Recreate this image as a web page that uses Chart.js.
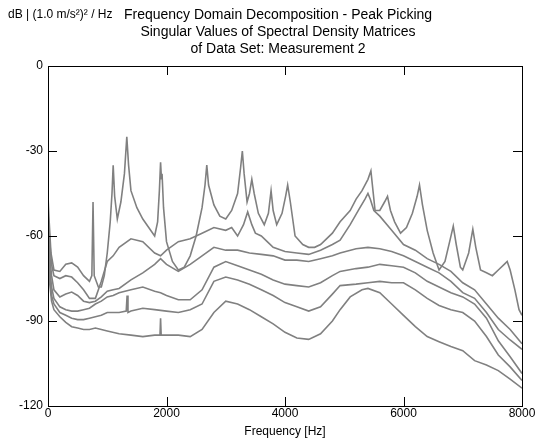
<!DOCTYPE html>
<html>
<head>
<meta charset="utf-8">
<script src="https://cdn.jsdelivr.net/npm/chart.js@4/dist/chart.umd.min.js"></script>
<style>
  html, body { margin: 0; padding: 0; background: #fff; }
  #wrap { width: 537px; height: 443px; }
</style>
</head>
<body>
<div id="wrap"><canvas id="fdd" width="537" height="443"></canvas></div>
<script>
// singular value curves (frequency in Hz, level in dB)
const pFreq = [0,20,50,100,200,300,400,500,600,700,740,760,780,850,900,950,1000,1050,1080,1100,1125,1170,1230,1290,1330,1360,1400,1500,1600,1700,1800,1850,1880,1900,1915,1925,1950,2000,2100,2200,2300,2400,2500,2600,2650,2680,2710,2800,2900,3000,3100,3200,3250,3280,3310,3360,3400,3440,3480,3550,3650,3720,3765,3800,3860,3950,4010,4045,4090,4170,4300,4400,4500,4600,4700,4800,4930,5100,5200,5300,5400,5450,5490,5520,5600,5680,5730,5780,5850,5950,6050,6150,6230,6270,6320,6400,6500,6600,6700,6790,6840,6890,6960,7000,7100,7170,7220,7300,7400,7500,7600,7700,7750,7800,7880,7950,8000];
const pDb = [-46,-55,-66,-72,-72.5,-70,-69.5,-71,-74,-76,-74,-48,-74,-78,-78,-74,-66,-55,-45,-35,-46,-54,-48,-38,-25,-35,-44,-50,-54,-57,-60,-55,-44,-34,-40,-38,-50,-62,-69,-72,-71,-67,-60,-50,-42,-35,-42,-49,-53,-54,-51,-45,-36,-30,-38,-48,-45,-40,-45,-52,-56,-52,-44,-51,-56,-52,-46,-42,-48,-60,-63,-64,-64,-63,-61,-59,-55,-51,-47,-44,-40,-37,-45,-51,-51,-48,-46,-51,-55,-59,-57,-52,-46,-42,-49,-58,-66,-72,-69,-61,-56.5,-63,-71,-72,-66,-57.6,-64,-72,-73,-74,-72,-70,-69,-72,-79,-86,-88];

const s2Freq = [0,30,60,100,200,300,400,500,600,700,800,900,1000,1100,1200,1400,1600,1800,1900,2000,2200,2400,2600,2800,3000,3100,3200,3300,3370,3440,3500,3600,3700,3800,4000,4200,4400,4600,4800,4930,5100,5250,5350,5400,5440,5500,5600,5800,6000,6200,6400,6600,6800,7000,7200,7400,7600,7800,8000];
const s2Db = [-52,-62,-70,-74,-75,-74,-74.5,-76.5,-79,-82,-82,-76,-69,-67,-64,-61,-62,-66,-67,-65,-62,-61,-59,-57,-58,-57,-60,-56,-51.5,-56,-59,-60,-62,-64,-65.5,-66,-66.5,-65,-63,-61.5,-56,-50.5,-47,-45,-47,-51,-53,-58,-63,-65,-68,-70,-72.5,-76.5,-79,-84,-89,-93,-98];

const midFreq = [0,30,60,100,200,300,400,500,600,700,800,900,1000,1100,1200,1400,1600,1800,1900,2000,2200,2400,2600,2800,3000,3200,3400,3600,3800,4000,4200,4400,4600,4800,4930,5200,5400,5600,5800,6000,6200,6400,6600,6800,7000,7200,7400,7600,7800,8000];
const s3Db = [-57,-67,-74,-79,-81.5,-80.5,-79.8,-81,-83,-83.5,-83,-81.5,-79.5,-79,-78.5,-75.5,-73,-70,-68,-70,-72.5,-70,-67,-64,-65,-65,-66,-66.5,-67,-68.5,-68.5,-69,-68,-67,-66,-64.5,-64,-64.5,-65.5,-67,-69,-71,-73,-76,-80,-82,-87,-93,-96.7,-100];
const s4Db = [-61,-71,-78,-82,-85,-86,-86.5,-86.5,-86,-85.5,-84,-83,-81.5,-81,-80,-79,-78,-79.5,-80,-81,-82.5,-82.5,-79,-71,-69,-70.5,-72,-73.5,-75.5,-77,-77.5,-78,-76.5,-74,-72.5,-71.5,-71,-70,-70.5,-71,-73,-76,-78,-80,-81.5,-84,-89,-97,-102.6,-108.5];

const s5Freq = [0,30,60,100,200,300,400,500,600,700,800,900,1000,1100,1200,1320,1335,1350,1400,1600,1800,2000,2200,2400,2600,2800,3000,3200,3400,3600,3800,4000,4200,4400,4600,4800,4930,5200,5400,5600,5800,6000,6200,6400,6600,6800,7000,7200,7400,7600,7800,8000];
const s5Db = [-65,-74,-81,-84,-87,-88,-89,-89.5,-89.5,-89,-88.5,-88,-87,-87,-87,-86.5,-81,-87,-86.5,-85.5,-86,-86.5,-87,-86,-84,-76,-74.5,-75.5,-77,-79,-81,-83.5,-85,-86.5,-85,-80.5,-77.5,-77,-76.5,-76,-76.5,-76.5,-79,-82,-84.5,-86,-87,-90,-95.5,-102,-106.2,-111];

const s6Freq = [0,30,60,100,200,300,400,500,600,700,800,900,1000,1200,1400,1600,1800,1890,1900,1910,2000,2200,2400,2600,2800,3000,3200,3400,3600,3800,4000,4200,4400,4600,4800,4930,5100,5300,5400,5600,5800,6000,6200,6400,6600,6800,7000,7200,7400,7600,7800,8000];
const s6Db = [-68,-77,-83,-86,-88.5,-90.5,-92,-92.5,-93,-93,-92.5,-93,-93.5,-94.5,-95,-95.5,-95,-95,-89,-95,-95,-95,-95.5,-93,-87,-83,-84,-86,-88.5,-91,-94,-96,-96.5,-94.5,-90,-86,-81.5,-79,-78.5,-80,-84,-88,-92,-95.5,-97.3,-99,-100.5,-104,-105.5,-107.5,-110.5,-113.7];

const xTicks = [0, 2000, 4000, 6000, 8000];
const yTicks = [0, -30, -60, -90, -120];

const FONT = '"Liberation Sans", Arial, Helvetica, sans-serif';
const lineColor = '#808080';

function pts(fs, vs) {
    return fs.map((f, i) => ({x: f, y: vs[i]}));
}

const curves = [
    [pFreq, pDb],
    [s2Freq, s2Db],
    [midFreq, s3Db],
    [midFreq, s4Db],
    [s5Freq, s5Db],
    [s6Freq, s6Db]
];

// frame on all four sides with ticks pointing inward, plus the header texts
const frameAndText = {
    id: 'frameAndText',
    afterDraw(chart) {
        const ctx = chart.ctx;
        const a = chart.chartArea;
        const xs = chart.scales.x, ys = chart.scales.y;
        const tl = 9;
        ctx.save();
        ctx.strokeStyle = '#000';
        ctx.lineWidth = 1;
        ctx.strokeRect(Math.round(a.left) + 0.5, Math.round(a.top) + 0.5,
                       Math.round(a.right - a.left), Math.round(a.bottom - a.top));
        ctx.beginPath();
        xTicks.forEach(v => {
            let px = Math.round(xs.getPixelForValue(v)) + 0.5;
            ctx.moveTo(px, a.bottom); ctx.lineTo(px, a.bottom - tl);
            ctx.moveTo(px, a.top); ctx.lineTo(px, a.top + tl);
        });
        yTicks.forEach(v => {
            let py = Math.round(ys.getPixelForValue(v)) + 0.5;
            ctx.moveTo(a.left, py); ctx.lineTo(a.left + tl, py);
            ctx.moveTo(a.right, py); ctx.lineTo(a.right - tl, py);
        });
        ctx.stroke();

        ctx.fillStyle = '#000';
        ctx.textBaseline = 'middle';
        ctx.textAlign = 'left';
        ctx.font = '12px ' + FONT;
        ctx.fillText('dB | (1.0 m/s²)² / Hz', 8, 15);
        ctx.textAlign = 'center';
        ctx.font = '14px ' + FONT;
        ctx.fillText('Frequency Domain Decomposition - Peak Picking', 278, 15);
        ctx.fillText('Singular Values of Spectral Density Matrices', 278, 32);
        ctx.fillText('of Data Set: Measurement 2', 278, 49);
        ctx.restore();
    }
};

new Chart(document.getElementById('fdd'), {
    type: 'line',
    data: {
        datasets: curves.map((c, i) => ({
            label: 'SV ' + (i + 1),
            data: pts(c[0], c[1]),
            borderColor: lineColor,
            borderWidth: 1.6,
            pointRadius: 0,
            fill: false,
            tension: 0
        }))
    },
    options: {
        responsive: false,
        animation: false,
        devicePixelRatio: 1,
        layout: {padding: {top: 66, right: 15, left: 0, bottom: 0}},
        plugins: {
            legend: {display: false},
            tooltip: {enabled: false},
            title: {display: false}
        },
        scales: {
            x: {
                type: 'linear',
                min: 0,
                max: 8000,
                grid: {display: false, drawTicks: false},
                border: {display: false},
                afterBuildTicks: s => { s.ticks = xTicks.map(v => ({value: v})); },
                ticks: {color: '#000', font: {family: FONT, size: 12}, padding: 0, maxRotation: 0,
                        callback: v => String(v)},
                title: {display: true, text: 'Frequency [Hz]', color: '#000',
                        font: {family: FONT, size: 12}, padding: {top: 0, bottom: 4}},
                afterFit: s => { s.height = 37; }
            },
            y: {
                min: -120,
                max: 0,
                grid: {display: false, drawTicks: false},
                border: {display: false},
                afterBuildTicks: s => { s.ticks = yTicks.map(v => ({value: v})); },
                ticks: {color: '#000', font: {family: FONT, size: 12}, padding: 5,
                        callback: v => String(v)},
                afterFit: s => { s.width = 48; }
            }
        }
    },
    plugins: [frameAndText]
});
</script>
</body>
</html>
